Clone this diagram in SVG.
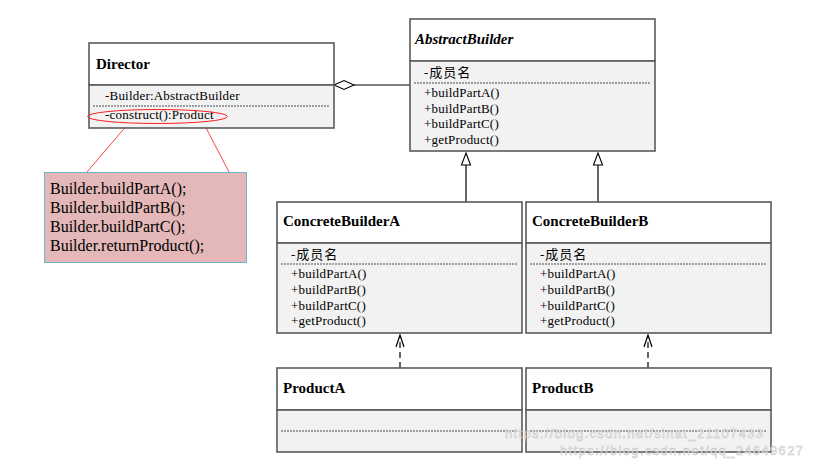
<svg xmlns="http://www.w3.org/2000/svg" width="814" height="467" viewBox="0 0 814 467">
<style>
.box{stroke:#5a5a5a;stroke-width:1.6}
.hd{fill:#ffffff}
.bd{fill:#f2f2f2}
.dash{stroke:#222;stroke-width:0.8;stroke-dasharray:2,1;fill:none}
.title{font-family:"Liberation Serif",serif;font-weight:bold;font-size:15px;fill:#000}
.mem{font-family:"Liberation Serif",serif;font-size:13px;fill:#000;letter-spacing:0.2px}
.cn{font-family:"Liberation Serif","Noto Sans CJK SC",serif;font-size:13px;fill:#000;letter-spacing:1px}
.note{font-family:"Liberation Serif",serif;font-size:16px;fill:#000}
.line{stroke:#000;stroke-width:1.2;fill:none}
.wm{font-family:"Liberation Sans",sans-serif;font-size:13px;fill:#f4f4f4;stroke:#bdbdbd;stroke-width:0.5;opacity:0.85}
</style>
<rect width="814" height="467" fill="#ffffff"/>
<g id="connectors">
  <line class="line" x1="354" y1="85" x2="410" y2="85"/>
  <polygon points="334,85 344,80.5 354,85 344,89.5" fill="#ffffff" stroke="#000" stroke-width="1.1"/>
  <line class="line" x1="466" y1="202" x2="466" y2="165"/>
  <polygon points="466,153 470.5,165 461.5,165" fill="#ffffff" stroke="#000" stroke-width="1.1"/>
  <line class="line" x1="598" y1="202" x2="598" y2="165"/>
  <polygon points="598,153 602.5,165 593.5,165" fill="#ffffff" stroke="#000" stroke-width="1.1"/>
  <line class="line" x1="400" y1="368" x2="400" y2="336" stroke-dasharray="6,4"/>
  <polyline class="line" points="396,347 400,335 404,347"/>
  <line class="line" x1="648" y1="368" x2="648" y2="336" stroke-dasharray="6,4"/>
  <polyline class="line" points="644,347 648,335 652,347"/>
  <line x1="128" y1="124" x2="87" y2="172" stroke="#ff3030" stroke-width="0.9"/>
  <line x1="204" y1="124" x2="229" y2="172" stroke="#ff3030" stroke-width="0.9"/>
</g>
<g id="director">
  <rect class="box hd" x="89" y="43" width="245" height="42"/>
  <rect class="box bd" x="89" y="85" width="245" height="43"/>
  <text class="title" x="96" y="69">Director</text>
  <text class="mem" x="105" y="100">-Builder:AbstractBuilder</text>
  <line class="dash" x1="93" y1="106" x2="330" y2="106"/>
  <text class="mem" x="105" y="119">-construct():Product</text>
  <ellipse cx="157.5" cy="116.5" rx="70" ry="7" fill="none" stroke="#ff2020" stroke-width="1"/>
</g>
<g id="note">
  <rect x="44.5" y="172.5" width="202" height="90" fill="#e4b8b8" stroke="#6cb4d0" stroke-width="1"/>
  <text class="note" x="50" y="194">Builder.buildPartA();</text>
  <text class="note" x="50" y="213">Builder.buildPartB();</text>
  <text class="note" x="50" y="232">Builder.buildPartC();</text>
  <text class="note" x="50" y="251">Builder.returnProduct();</text>
</g>
<g id="abstractBuilder">
  <rect class="box hd" x="410" y="19" width="245" height="42"/>
  <rect class="box bd" x="410" y="61" width="245" height="90"/>
  <text class="title" x="415" y="44" font-style="italic">AbstractBuilder</text>
  <text class="cn" x="424" y="77">-成员名</text>
  <line class="dash" x1="414" y1="83" x2="651" y2="83"/>
  <text class="mem" x="424" y="97">+buildPartA()</text>
  <text class="mem" x="424" y="112.5">+buildPartB()</text>
  <text class="mem" x="424" y="128">+buildPartC()</text>
  <text class="mem" x="424" y="143.5">+getProduct()</text>
</g>
<g id="concreteBuilderA">
  <rect class="box hd" x="277" y="202" width="245" height="41"/>
  <rect class="box bd" x="277" y="243" width="245" height="90"/>
  <text class="title" x="283" y="226">ConcreteBuilderA</text>
  <text class="cn" x="291" y="259">-成员名</text>
  <line class="dash" x1="281" y1="264" x2="518" y2="264"/>
  <text class="mem" x="291" y="278">+buildPartA()</text>
  <text class="mem" x="291" y="294">+buildPartB()</text>
  <text class="mem" x="291" y="309.5">+buildPartC()</text>
  <text class="mem" x="291" y="325">+getProduct()</text>
</g>
<g id="concreteBuilderB">
  <rect class="box hd" x="526" y="202" width="245" height="41"/>
  <rect class="box bd" x="526" y="243" width="245" height="90"/>
  <text class="title" x="532" y="226">ConcreteBuilderB</text>
  <text class="cn" x="540" y="259">-成员名</text>
  <line class="dash" x1="530" y1="264" x2="767" y2="264"/>
  <text class="mem" x="540" y="278">+buildPartA()</text>
  <text class="mem" x="540" y="294">+buildPartB()</text>
  <text class="mem" x="540" y="309.5">+buildPartC()</text>
  <text class="mem" x="540" y="325">+getProduct()</text>
</g>
<g id="productA">
  <rect class="box hd" x="277" y="368" width="245" height="42"/>
  <rect class="box bd" x="277" y="410" width="245" height="42"/>
  <text class="title" x="283" y="393">ProductA</text>
  <line class="dash" x1="281" y1="431" x2="518" y2="431"/>
</g>
<g id="productB">
  <rect class="box hd" x="526" y="368" width="245" height="42"/>
  <rect class="box bd" x="526" y="410" width="245" height="42"/>
  <text class="title" x="532" y="393">ProductB</text>
  <line class="dash" x1="530" y1="431" x2="767" y2="431"/>
</g>
<g id="watermark">
  <text class="wm" x="505" y="438" textLength="258">https://blog.csdn.net/sinat_21107433</text>
  <text class="wm" x="560" y="455" textLength="243">https://blog.csdn.net/qq_24649627</text>
</g>
</svg>
